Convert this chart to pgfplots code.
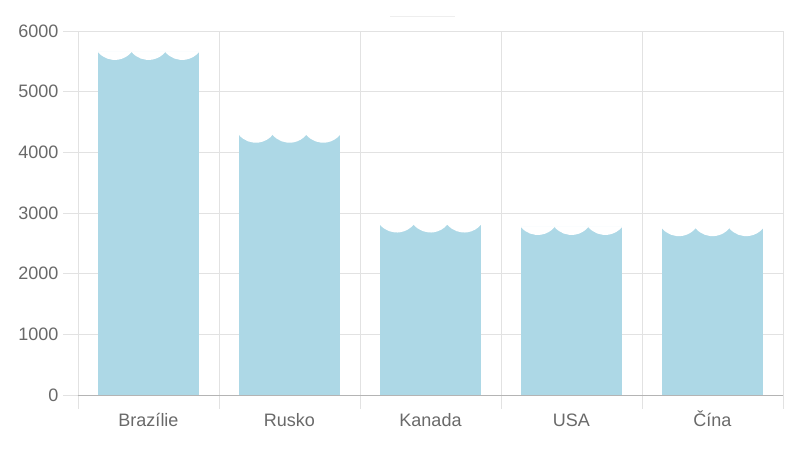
\documentclass[border=0pt]{standalone}
\usepackage{pgfplots}
\pgfplotsset{compat=1.18}
\usepackage{fontspec}
\setmainfont{Liberation Sans}
\definecolor{barblue}{RGB}{173,216,230}
\definecolor{gridc}{RGB}{226,226,226}
\definecolor{axisc}{RGB}{180,180,180}
\definecolor{txt}{RGB}{105,105,105}
\pgfdeclareplotmark{scallop}{%
  \pgfpathmoveto{\pgfqpoint{-17pt}{0.5pt}}%
  \pgfpathlineto{\pgfqpoint{-17pt}{0pt}}%
  \pgfpatharc{219.5}{320.5}{22pt}%
  \pgfpathlineto{\pgfqpoint{17pt}{0.5pt}}%
  \pgfpathclose
  \pgfusepathqfill}
\pgfplotstableread{
x y
0 5655
1 4290
2 2810
3 2770
4 2750
}\datatable
\begin{document}
\begin{tikzpicture}
\begin{axis}[
  name=ax,
  scale only axis,
  width=705pt, height=364pt,
  xmin=-0.5, xmax=4.5, ymin=0, ymax=6000,
  xtick={0,1,2,3,4},
  xticklabels={Brazílie,Rusko,Kanada,USA,Čína},
  minor xtick={-0.5,0.5,1.5,2.5,3.5,4.5},
  ytick={0,1000,...,6000},
  xminorgrids=true, ymajorgrids=true,
  grid style={draw=gridc, line width=0.8pt},
  minor grid style={draw=gridc, line width=0.8pt},
  axis x line*=bottom, axis y line*=left,
  x axis line style={-, draw=axisc, line width=0.9pt},
  y axis line style={-, draw=gridc, line width=0.8pt},
  tick align=outside,
  major tick length=15pt, minor tick length=14pt,
  every major x tick/.append style={draw=none},
  every minor x tick/.append style={draw=gridc, line width=0.8pt},
  ytick style={draw=gridc, line width=0.8pt},
  ticklabel style={font=\fontsize{18}{21}\selectfont, text=txt},
  /pgf/number format/assume math mode=true,
  /pgf/number format/1000 sep={},
  yticklabel style={xshift=-1pt},
  xticklabel style={text height=14pt, text depth=4pt, yshift=1pt},
  ybar, bar width=0.716,
]
\addplot[fill=barblue, draw=none] table[x=x,y=y]{\datatable};
\addplot[only marks, mark=scallop, white, mark options={xshift=-33.7pt, fill=white, draw=none}] table[x=x,y=y]{\datatable};
\addplot[only marks, mark=scallop, white, mark options={fill=white, draw=none}] table[x=x,y=y]{\datatable};
\addplot[only marks, mark=scallop, white, mark options={xshift=33.7pt, fill=white, draw=none}] table[x=x,y=y]{\datatable};
\end{axis}
\draw[draw=gridc!60, line width=1pt] ([shift={(312pt,14pt)}]ax.north west) -- ([shift={(377pt,14pt)}]ax.north west);
\pgfresetboundingbox
\path ([shift={(-78pt,-55pt)}]ax.south west) rectangle ([shift={(17pt,31pt)}]ax.north east);
\end{tikzpicture}
\end{document}
